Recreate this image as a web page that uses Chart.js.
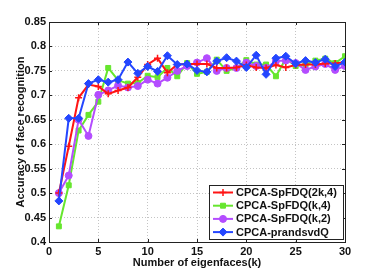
<!DOCTYPE html>
<html>
<head>
<meta charset="utf-8">
<script src="https://cdn.jsdelivr.net/npm/chart.js@4"></script>
<style>
  html, body { margin: 0; padding: 0; background: #fff; }
  #wrap { width: 382px; height: 273px; }
</style>
</head>
<body>
<div id="wrap"><canvas id="acc-chart" width="382" height="273"></canvas></div>
<script>
// número de eigenfaces (eixo x)
const eigenfaces = [1,2,3,4,5,6,7,8,9,10,11,12,13,14,15,16,17,18,19,20,21,22,23,24,25,26,27,28,29,30];

const seriesNames = ['CPCA-SpFDQ(2k,4)', 'CPCA-SpFDQ(k,4)', 'CPCA-SpFDQ(k,2)', 'CPCA-prandsvdQ'];

const spfdq2k4 = [0.500,0.596,0.695,0.722,0.718,0.703,0.710,0.716,0.737,0.763,0.776,0.746,0.763,0.764,0.764,0.764,0.756,0.756,0.757,0.762,0.757,0.756,0.762,0.757,0.762,0.763,0.763,0.765,0.765,0.768];
const spfdqk4  = [0.432,0.516,0.628,0.660,0.687,0.756,0.731,0.724,0.725,0.740,0.737,0.756,0.739,0.766,0.744,0.748,0.773,0.750,0.756,0.772,0.763,0.763,0.739,0.775,0.760,0.763,0.771,0.775,0.766,0.780];
const spfdqk2  = [0.500,0.536,0.650,0.617,0.701,0.710,0.720,0.716,0.719,0.732,0.724,0.736,0.750,0.760,0.767,0.776,0.750,0.756,0.756,0.767,0.760,0.756,0.770,0.771,0.766,0.752,0.759,0.764,0.752,0.760];
const prandsvd = [0.484,0.653,0.653,0.724,0.732,0.727,0.732,0.768,0.745,0.759,0.749,0.781,0.763,0.764,0.751,0.748,0.770,0.777,0.770,0.757,0.782,0.743,0.776,0.780,0.765,0.771,0.767,0.774,0.759,0.768];

const xTicks = [0,5,10,15,20,25,30];
const yTicks = [0.4,0.45,0.5,0.55,0.6,0.65,0.7,0.75,0.8,0.85];

const FONT = 'Liberation Sans, Arial, Helvetica, sans-serif';
Chart.defaults.font.family = FONT;
Chart.defaults.font.size = 11;
Chart.defaults.font.weight = 'bold';
Chart.defaults.color = '#111';

function makeSet(label, values, color, style, radius, order) {
    return {
        label: label,
        data: values.map((v, i) => ({ x: eigenfaces[i], y: v })),
        borderColor: color,
        backgroundColor: color,
        borderWidth: 2,
        pointStyle: style,
        pointRadius: radius,
        pointBorderWidth: style === 'cross' ? 1.5 : 1,
        pointBackgroundColor: color,
        pointBorderColor: color,
        tension: 0,
        order: order
    };
}

// caixa + ticks internos + legenda dentro do gráfico (estilo matlab)
const boxPlugin = {
    id: 'box',
    afterDraw(chart) {
        const { ctx, chartArea: a, scales } = chart;
        ctx.save();
        ctx.strokeStyle = '#222';
        ctx.lineWidth = 1;
        ctx.setLineDash([]);
        ctx.strokeRect(Math.round(a.left) + 0.5, Math.round(a.top) + 0.5,
                       Math.round(a.right - a.left), Math.round(a.bottom - a.top));
        ctx.beginPath();
        xTicks.forEach(t => {
            const x = Math.round(scales.x.getPixelForValue(t)) + 0.5;
            ctx.moveTo(x, a.bottom); ctx.lineTo(x, a.bottom - 3);
            ctx.moveTo(x, a.top); ctx.lineTo(x, a.top + 3);
        });
        yTicks.forEach(t => {
            const y = Math.round(scales.y.getPixelForValue(t)) + 0.5;
            ctx.moveTo(a.left, y); ctx.lineTo(a.left + 3, y);
            ctx.moveTo(a.right, y); ctx.lineTo(a.right - 3, y);
        });
        ctx.stroke();

        // legenda
        const lx = 209, ly = 185, lw = 134, lh = 54;
        ctx.fillStyle = '#fff';
        ctx.fillRect(lx, ly, lw, lh);
        ctx.strokeStyle = '#222';
        ctx.strokeRect(lx + 0.5, ly + 0.5, lw, lh);
        ctx.font = 'bold 11px ' + FONT;
        ctx.textBaseline = 'middle';
        ctx.textAlign = 'left';
        chart.data.datasets.forEach((ds, i) => {
            const y = ly + 7.5 + i * 13.2;
            ctx.strokeStyle = ds.borderColor;
            ctx.lineWidth = 2;
            ctx.beginPath();
            ctx.moveTo(lx + 4, y); ctx.lineTo(lx + 24, y);
            ctx.stroke();
            ctx.fillStyle = ds.borderColor;
            ctx.lineWidth = ds.pointBorderWidth;
            Chart.helpers.drawPoint(ctx, { pointStyle: ds.pointStyle, radius: ds.pointRadius, borderWidth: ds.pointBorderWidth, rotation: 0 }, lx + 14, y);
            ctx.fillStyle = '#111';
            ctx.fillText(ds.label, lx + 27, y + 0.5);
        });
        ctx.restore();
    }
};

new Chart(document.getElementById('acc-chart'), {
    type: 'line',
    data: {
        datasets: [
            makeSet(seriesNames[0], spfdq2k4, '#ff1414', 'cross', 3.5, 1),
            makeSet(seriesNames[1], spfdqk4, '#66e62e', 'rect', 3.5, 3),
            makeSet(seriesNames[2], spfdqk2, '#b44cff', 'circle', 3.5, 2),
            makeSet(seriesNames[3], prandsvd, '#2446ff', 'rectRot', 4, 0)
        ]
    },
    options: {
        responsive: false,
        animation: false,
        devicePixelRatio: 1,
        layout: { padding: { left: 0, top: 22, right: 37, bottom: 0 } },
        plugins: { legend: { display: false }, tooltip: { enabled: false } },
        scales: {
            x: {
                type: 'linear',
                min: 0,
                max: 30,
                afterBuildTicks: (s) => { s.ticks = xTicks.map(v => ({ value: v })); },
                afterFit: (s) => { s.height = 31; },
                grid: { color: '#c4c4c4', lineWidth: 1, drawTicks: false },
                border: { display: false, dash: [1, 2] },
                ticks: { padding: 3, callback: (v) => String(v) },
                title: { display: true, text: 'Number of eigenfaces(k)', padding: { top: 0, bottom: 3 } }
            },
            y: {
                min: 0.4,
                max: 0.85,
                afterBuildTicks: (s) => { s.ticks = yTicks.map(v => ({ value: v })); },
                afterFit: (s) => { s.width = 49; },
                grid: { color: '#c4c4c4', lineWidth: 1, drawTicks: false },
                border: { display: false, dash: [1, 2] },
                ticks: { padding: 3, callback: (v) => String(+v.toFixed(2)) },
                title: { display: true, text: 'Accuracy of face recognition', padding: { top: 14, bottom: 0 } }
            }
        }
    },
    plugins: [boxPlugin]
});
</script>
</body>
</html>
